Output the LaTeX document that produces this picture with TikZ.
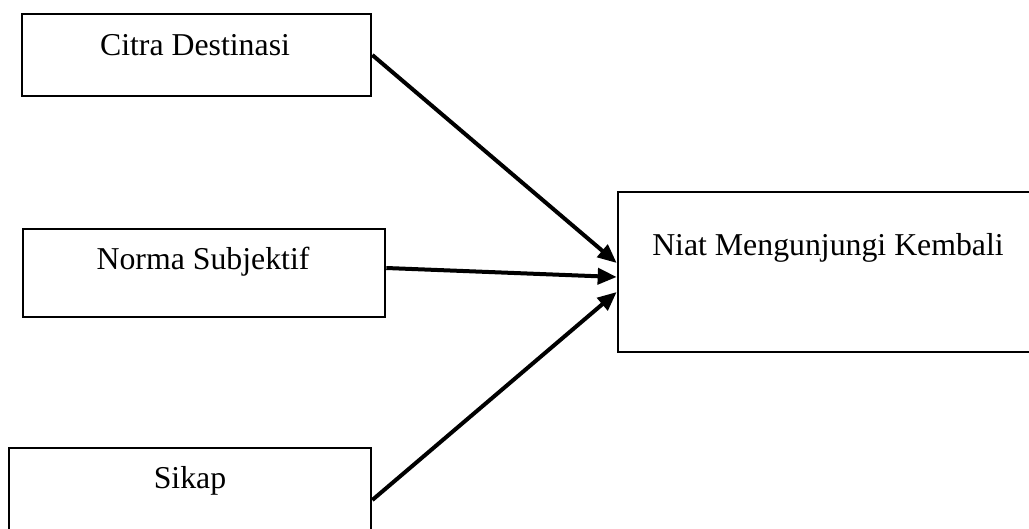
\documentclass[tikz,border=0pt]{standalone}
\usepackage{fontspec}
\setmainfont{Liberation Serif}
\usetikzlibrary{arrows.meta}
\begin{document}
\begin{tikzpicture}[x=1pt,y=-1pt,
  box/.style={draw=black, line width=2.6pt, inner sep=0pt},
  txt/.style={anchor=base, inner sep=0pt, font=\fontsize{31.8}{38}\selectfont},
  conn/.style={line width=4pt, -{Triangle[length=19pt,width=16pt]}}]
\useasboundingbox (0,0) rectangle (1029,528);
\clip (0,0) rectangle (1029,528);
\fill[white] (0,0) rectangle (1029,528);
\node[box, minimum width=349pt, minimum height=82pt] (cd) at (196.5,55) {};
\node[box, minimum width=362pt, minimum height=88pt] (ns) at (204,273) {};
\node[box, minimum width=362pt, minimum height=104pt] (sk) at (190,500) {};
\node[box, minimum width=422pt, minimum height=160pt] (niat) at (829,272) {};
\node[txt] (cdt) at (195,55) {Citra Destinasi};
\node[txt] (nst) at (203,269) {Norma Subjektif};
\node[txt] (skt) at (190,488) {Sikap};
\node[txt] (niatt) at (828,255) {Niat Mengunjungi Kembali};
\draw[conn] (cd.east) -- ([yshift=9pt]niat.west);
\draw[conn] ([yshift=5pt]ns.east) -- ([yshift=-5pt]niat.west);
\draw[conn] (sk.east) -- ([yshift=-20pt]niat.west);
\end{tikzpicture}
\end{document}
